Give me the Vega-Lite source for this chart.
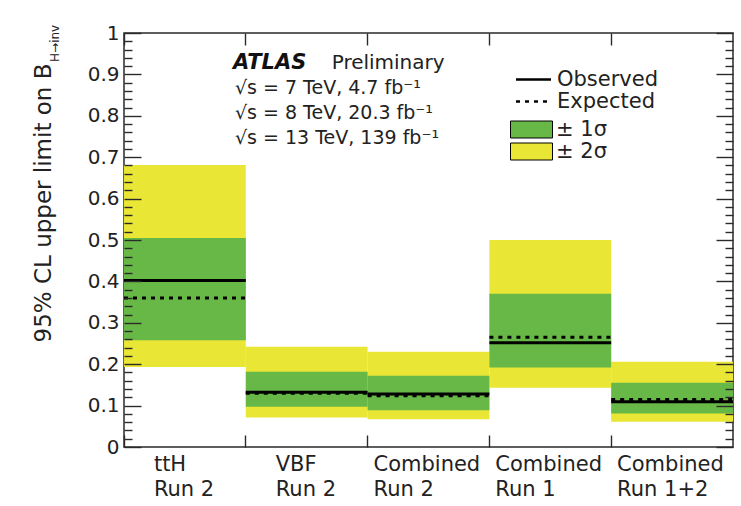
{
  "$schema": "https://vega.github.io/schema/vega-lite/v6.json",
  "width": 609,
  "height": 414,
  "autosize": {"type": "none"},
  "padding": {"left": 124, "top": 33, "right": 8, "bottom": 59},
  "background": "white",
  "config": {
    "view": {"stroke": "#2a2a2a", "strokeWidth": 1.5},
    "font": "DejaVu Sans",
    "axis": {
      "grid": false,
      "domain": false,
      "ticks": true,
      "labelFont": "DejaVu Sans",
      "titleFont": "DejaVu Sans",
      "labelColor": "#222",
      "titleColor": "#222",
      "tickColor": "#2a2a2a",
      "tickWidth": 1.4,
      "tickOpacity": 1,
      "labelOverlap": false
    },
    "legend": {
      "padding": 0,
      "labelFont": "DejaVu Sans",
      "labelFontSize": 21,
      "labelColor": "#222"
    }
  },
  "data": {
    "values": [
      {"cat": "ttH Run 2", "lo2": 0.193, "lo1": 0.258, "Expected": 0.360, "Observed": 0.402, "hi1": 0.505, "hi2": 0.681},
      {"cat": "VBF Run 2", "lo2": 0.071, "lo1": 0.097, "Expected": 0.130, "Observed": 0.132, "hi1": 0.182, "hi2": 0.242},
      {"cat": "Combined Run 2", "lo2": 0.067, "lo1": 0.089, "Expected": 0.124, "Observed": 0.128, "hi1": 0.172, "hi2": 0.230},
      {"cat": "Combined Run 1", "lo2": 0.143, "lo1": 0.192, "Expected": 0.265, "Observed": 0.252, "hi1": 0.370, "hi2": 0.500},
      {"cat": "Combined Run 1+2", "lo2": 0.061, "lo1": 0.081, "Expected": 0.115, "Observed": 0.109, "hi1": 0.155, "hi2": 0.206}
    ]
  },
  "resolve": {"scale": {"x": "independent"}, "axis": {"x": "independent", "y": "independent"}},
  "layer": [
    {
      "mark": {"type": "bar"},
      "encoding": {
        "x": {
          "field": "cat", "type": "nominal", "sort": null,
          "scale": {"paddingInner": 0, "paddingOuter": 0},
          "axis": {
            "orient": "bottom", "zindex": 2, "bandPosition": 0, "offset": -12, "tickSize": 12, "labelAngle": 0,
            "labelAlign": "left", "labelBaseline": "top", "labelPadding": 6,
            "labelOffset": {"condition": {"test": "indexof(datum.value, 'Combined') == 0", "value": -55}, "value": -31},
            "labelExpr": "[slice(datum.label, 0, indexof(datum.label, ' Run')), slice(datum.label, indexof(datum.label, ' Run') + 1)]",
            "labelLineHeight": 25, "labelFontSize": 21, "title": null
          }
        },
        "y": {
          "field": "lo2", "type": "quantitative",
          "scale": {"domain": [0, 1], "nice": false, "zero": false},
          "axis": {
            "orient": "left", "zindex": 2, "values": [0, 0.1, 0.2, 0.3, 0.4, 0.5, 0.6, 0.7, 0.8, 0.9, 1],
            "format": ".1~f", "offset": -17, "tickSize": 17, "labelPadding": 5, "labelFontSize": 20,
            "title": "95% CL upper limit on B", "titleFontSize": 23, "titleFontWeight": "normal",
            "titleAngle": -90, "titleAlign": "right", "titleBaseline": "middle", "titleX": -98, "titleY": 30
          }
        },
        "y2": {"field": "hi2"},
        "color": {
          "datum": "± 2σ",
          "scale": {"domain": ["± 1σ", "± 2σ"], "range": ["#68b847", "#e9e635"]},
          "legend": {
            "orient": "none", "legendX": 397, "legendY": 86, "title": null,
            "symbolType": "M-2.47,-1L2.47,-1L2.47,1L-2.47,1Z", "symbolSize": 289,
            "symbolStrokeColor": "black", "symbolStrokeWidth": 1, "symbolOpacity": 1,
            "labelOffset": 14, "rowPadding": 0
          }
        }
      }
    },
    {
      "mark": {"type": "bar"},
      "encoding": {
        "x": {
          "field": "cat", "type": "nominal", "sort": null,
          "scale": {"paddingInner": 0, "paddingOuter": 0},
          "axis": {"orient": "top", "zindex": 2, "bandPosition": 0, "offset": -12, "tickSize": 12, "labels": false, "title": null}
        },
        "y": {
          "field": "lo1", "type": "quantitative",
          "axis": {
            "orient": "left", "zindex": 2,
            "values": [0.02, 0.04, 0.06, 0.08, 0.12, 0.14, 0.16, 0.18, 0.22, 0.24, 0.26, 0.28, 0.32, 0.34, 0.36, 0.38, 0.42, 0.44, 0.46, 0.48, 0.52, 0.54, 0.56, 0.58, 0.62, 0.64, 0.66, 0.68, 0.72, 0.74, 0.76, 0.78, 0.82, 0.84, 0.86, 0.88, 0.92, 0.94, 0.96, 0.98],
            "offset": -8, "tickSize": 8, "labels": false, "title": null
          }
        },
        "y2": {"field": "hi1"},
        "color": {"datum": "± 1σ"}
      }
    },
    {
      "mark": {"type": "rule", "color": "black", "strokeWidth": 3},
      "encoding": {
        "x": {"field": "cat", "type": "nominal", "sort": null, "bandPosition": 0, "scale": {"paddingInner": 0, "paddingOuter": 0}, "axis": null},
        "x2": {"field": "cat", "bandPosition": 1},
        "y": {
          "field": "Observed", "type": "quantitative",
          "axis": {"orient": "right", "zindex": 2, "values": [0, 0.1, 0.2, 0.3, 0.4, 0.5, 0.6, 0.7, 0.8, 0.9, 1], "offset": -17, "tickSize": 17, "labels": false, "title": null}
        },
        "strokeDash": {
          "datum": "Observed",
          "scale": {"domain": ["Observed", "Expected"], "range": [[1, 0], [4, 5]]},
          "legend": {
            "orient": "none", "legendX": 399, "legendY": 36, "title": null,
            "symbolType": "M-2.5,0L2.5,0", "symbolSize": 196, "symbolStrokeColor": "black",
            "symbolStrokeWidth": 2.5, "labelOffset": 13, "rowPadding": 0
          }
        }
      }
    },
    {
      "mark": {"type": "rule", "color": "black", "strokeWidth": 3},
      "encoding": {
        "x": {"field": "cat", "type": "nominal", "sort": null, "bandPosition": 0, "scale": {"paddingInner": 0, "paddingOuter": 0}, "axis": null},
        "x2": {"field": "cat", "bandPosition": 1},
        "y": {
          "field": "Expected", "type": "quantitative",
          "axis": {
            "orient": "right", "zindex": 2,
            "values": [0.02, 0.04, 0.06, 0.08, 0.12, 0.14, 0.16, 0.18, 0.22, 0.24, 0.26, 0.28, 0.32, 0.34, 0.36, 0.38, 0.42, 0.44, 0.46, 0.48, 0.52, 0.54, 0.56, 0.58, 0.62, 0.64, 0.66, 0.68, 0.72, 0.74, 0.76, 0.78, 0.82, 0.84, 0.86, 0.88, 0.92, 0.94, 0.96, 0.98],
            "offset": -8, "tickSize": 8, "labels": false, "title": null
          }
        },
        "strokeDash": {"datum": "Expected"}
      }
    },
    {
      "data": {"values": [{}]},
      "mark": {"type": "text", "text": "ATLAS", "font": "DejaVu Sans", "fontSize": 21, "fontWeight": "bold", "fontStyle": "italic", "align": "left", "baseline": "alphabetic", "color": "#111"},
      "encoding": {
        "x": {"datum": 0.895, "type": "quantitative", "scale": {"domain": [0, 5], "nice": false, "zero": false}, "axis": null},
        "y": {"datum": 0.913, "type": "quantitative", "axis": null}
      }
    },
    {
      "data": {"values": [{}]},
      "mark": {"type": "text", "text": "Preliminary", "font": "DejaVu Sans", "fontSize": 20, "align": "left", "baseline": "alphabetic", "color": "#222"},
      "encoding": {
        "x": {"datum": 1.705, "type": "quantitative", "scale": {"domain": [0, 5], "nice": false, "zero": false}, "axis": null},
        "y": {"datum": 0.913, "type": "quantitative", "axis": null}
      }
    },
    {
      "data": {"values": [{}]},
      "mark": {"type": "text", "text": ["√s = 7 TeV, 4.7 fb⁻¹", "√s = 8 TeV, 20.3 fb⁻¹", "√s = 13 TeV, 139 fb⁻¹"], "lineHeight": 25, "font": "DejaVu Sans", "fontSize": 19, "align": "left", "baseline": "alphabetic", "color": "#222"},
      "encoding": {
        "x": {"datum": 0.911, "type": "quantitative", "scale": {"domain": [0, 5], "nice": false, "zero": false}, "axis": null},
        "y": {"datum": 0.853, "type": "quantitative", "axis": null}
      }
    },
    {
      "data": {"values": [{}]},
      "mark": {"type": "text", "text": "H→inv", "font": "DejaVu Sans", "fontSize": 12, "angle": 270, "align": "center", "baseline": "middle", "color": "#222"},
      "encoding": {
        "x": {"datum": -0.565, "type": "quantitative", "scale": {"domain": [0, 5], "nice": false, "zero": false}, "axis": null},
        "y": {"datum": 0.975, "type": "quantitative", "axis": null}
      }
    }
  ]
}
